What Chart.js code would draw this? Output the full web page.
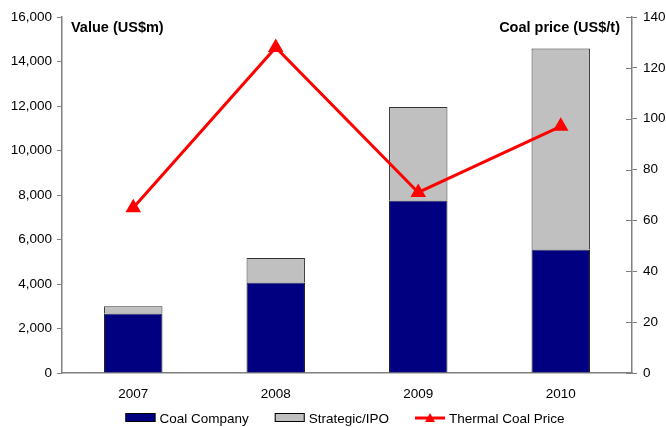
<!DOCTYPE html>
<html>
<head>
<meta charset="utf-8">
<script src="https://cdn.jsdelivr.net/npm/chart.js@4/dist/chart.umd.min.js"></script>
<style>
html,body{margin:0;padding:0;background:#fff;}
#wrap{width:666px;height:427px;position:relative;}
</style>
</head>
<body>
<div id="wrap"><canvas id="c" width="666" height="427"></canvas></div>
<script>
const categories = ['2007', '2008', '2009', '2010'];
const coalCompany = [2670, 4070, 7750, 5550];
const strategicIPO = [330, 1100, 4200, 9030];
const thermalCoalPrice = [65, 128, 71, 97];
const leftTicks = [0, 2000, 4000, 6000, 8000, 10000, 12000, 14000, 16000];
const rightTicks = [0, 20, 40, 60, 80, 100, 120, 140];
const seriesNames = ['Coal Company', 'Strategic/IPO', 'Thermal Coal Price'];
const leftTitle = 'Value (US$m)';
const rightTitle = 'Coal price (US$/t)';

const FONT = '"Liberation Sans", Arial, sans-serif';
const AXIS = '#808080';
const NAVY = '#000080';
const GREY = '#C0C0C0';
const RED = '#FF0000';

const extras = {
  id: 'extras',
  afterDraw(chart) {
    const ctx = chart.ctx;
    const a = chart.chartArea;
    const yr = chart.scales.y2;
    ctx.save();
    ctx.strokeStyle = AXIS; ctx.lineWidth = 1;
    rightTicks.forEach(v => {
      const y = Math.round(yr.getPixelForValue(v)) + 0.5;
      ctx.beginPath(); ctx.moveTo(a.right - 6, y); ctx.lineTo(a.right, y); ctx.stroke();
    });
    ctx.fillStyle = '#000';
    ctx.font = 'bold 14.5px ' + FONT;
    ctx.textBaseline = 'middle';
    ctx.textAlign = 'left';
    ctx.fillText(leftTitle, a.left + 9, 28);
    ctx.textAlign = 'right';
    ctx.fillText(rightTitle, a.right - 12, 28);
    ctx.font = '13.5px ' + FONT;
    ctx.textAlign = 'left';
    const sw = 30, gap = 4, space = 26;
    const widths = seriesNames.map(n => sw + gap + ctx.measureText(n).width);
    const total = widths.reduce((s, w) => s + w, 0) + space * (seriesNames.length - 1);
    let x = (a.left + a.right) / 2 - total / 2 - 2;
    const ly = 418;
    seriesNames.forEach((n, i) => {
      if (i < 2) {
        ctx.fillStyle = i === 0 ? NAVY : GREY;
        ctx.fillRect(x, ly - 5, sw, 9);
        ctx.strokeStyle = '#000'; ctx.lineWidth = 1;
        ctx.strokeRect(x + 0.5, ly - 4.5, sw - 1, 8);
      } else {
        ctx.strokeStyle = RED; ctx.lineWidth = 3;
        ctx.beginPath(); ctx.moveTo(x, ly); ctx.lineTo(x + sw, ly); ctx.stroke();
        ctx.fillStyle = RED;
        ctx.beginPath(); ctx.moveTo(x + sw / 2, ly - 5); ctx.lineTo(x + sw / 2 + 5, ly + 4); ctx.lineTo(x + sw / 2 - 5, ly + 4); ctx.closePath(); ctx.fill();
      }
      ctx.fillStyle = '#000';
      ctx.fillText(n, x + sw + gap, ly + 1);
      x += widths[i] + space;
    });
    ctx.restore();
  }
};

new Chart(document.getElementById('c'), {
  data: {
    labels: categories,
    datasets: [
      { type: 'line', label: seriesNames[2], data: thermalCoalPrice, yAxisID: 'y2',
        borderColor: RED, backgroundColor: RED, borderWidth: 3, pointStyle: 'triangle',
        pointRadius: 6, pointHoverRadius: 6, tension: 0, order: 0 },
      { type: 'bar', label: seriesNames[0], data: coalCompany, yAxisID: 'y',
        backgroundColor: NAVY, borderColor: '#111', borderWidth: 1, order: 1,
        categoryPercentage: 1, barPercentage: 0.41, stack: 's' },
      { type: 'bar', label: seriesNames[1], data: strategicIPO, yAxisID: 'y',
        backgroundColor: GREY, borderColor: '#333', borderWidth: 1, order: 1,
        categoryPercentage: 1, barPercentage: 0.41, stack: 's' }
    ]
  },
  options: {
    responsive: false,
    animation: false,
    devicePixelRatio: 1,
    layout: { padding: { top: 17, bottom: 0, left: 0, right: 0 } },
    plugins: { legend: { display: false }, tooltip: { enabled: false } },
    scales: {
      x: {
        stacked: true,
        grid: { display: false, drawTicks: false },
        border: { color: AXIS, width: 1.5 },
        ticks: { color: '#000', font: { family: FONT, size: 13.5 }, padding: 13 },
        afterFit(s) { s.height = 54; }
      },
      y: {
        stacked: true, position: 'left', min: 0, max: 16000,
        afterBuildTicks(s) { s.ticks = leftTicks.map(v => ({ value: v })); },
        grid: { drawOnChartArea: false, tickLength: 5, color: AXIS },
        border: { color: AXIS, width: 1.5 },
        ticks: { color: '#000', font: { family: FONT, size: 13.5 }, padding: 5,
          callback: v => v.toLocaleString('en-US') },
        afterFit(s) { s.width = 62; }
      },
      y2: {
        position: 'right', min: 0, max: 140,
        afterBuildTicks(s) { s.ticks = rightTicks.map(v => ({ value: v })); },
        grid: { drawOnChartArea: false, tickLength: 5, color: AXIS },
        border: { color: AXIS, width: 1.5 },
        ticks: { color: '#000', font: { family: FONT, size: 13.5 }, padding: 6 },
        afterFit(s) { s.width = 34; }
      }
    }
  },
  plugins: [extras]
});
</script>
</body>
</html>
